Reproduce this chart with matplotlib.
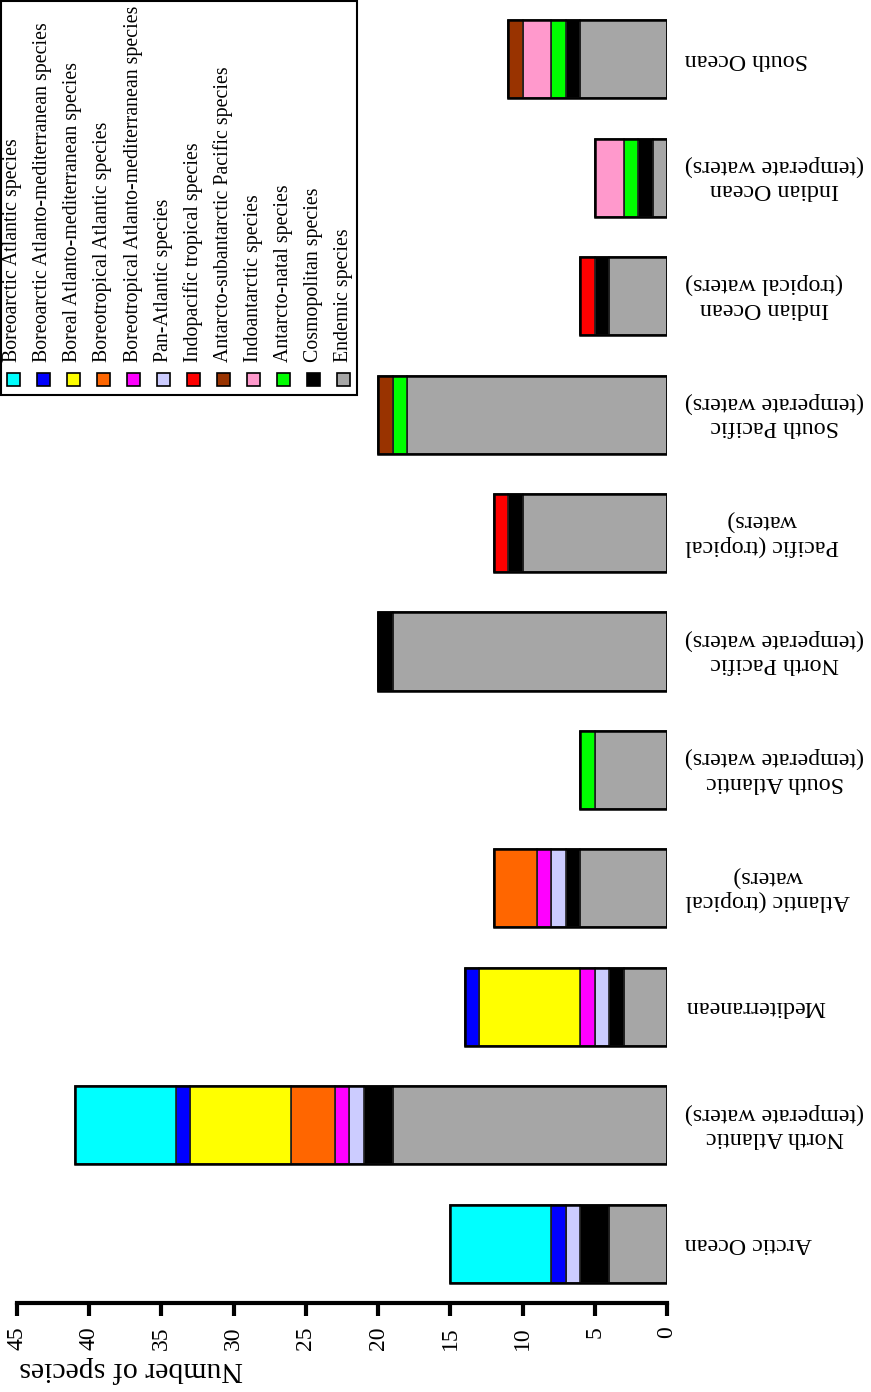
import matplotlib
matplotlib.use('Agg')
import matplotlib.pyplot as plt
from matplotlib.patches import Rectangle

plt.rcParams['font.family'] = ['Liberation Serif', 'DejaVu Serif']

# regions (bottom to top in the picture)
regions = ['Arctic Ocean', 'North Atlantic\n(temperate waters)', 'Mediterranean',
           'Atlantic (tropical\nwaters)', 'South Atlantic\n(temperate waters)',
           'North Pacific\n(temperate waters)', 'Pacific (tropical\nwaters)',
           'South Pacific\n(temperate waters)', 'Indian Ocean\n(tropical waters)',
           'Indian Ocean\n(temperate waters)', 'South Ocean']

# species counts per group, same order as regions
boreoarctic_atl = [7, 7, 0, 0, 0, 0, 0, 0, 0, 0, 0]
boreoarctic_am = [1, 1, 1, 0, 0, 0, 0, 0, 0, 0, 0]
boreal_am = [0, 7, 7, 0, 0, 0, 0, 0, 0, 0, 0]
boreotrop_atl = [0, 3, 0, 3, 0, 0, 0, 0, 0, 0, 0]
boreotrop_am = [0, 1, 1, 1, 0, 0, 0, 0, 0, 0, 0]
pan_atl = [1, 1, 1, 1, 0, 0, 0, 0, 0, 0, 0]
indopacific = [0, 0, 0, 0, 0, 0, 1, 0, 1, 0, 0]
antarcto_subant_pac = [0, 0, 0, 0, 0, 0, 0, 1, 0, 0, 1]
indoantarctic = [0, 0, 0, 0, 0, 0, 0, 0, 0, 2, 2]
antarcto_natal = [0, 0, 0, 0, 1, 0, 0, 1, 0, 1, 1]
cosmopolitan = [2, 2, 1, 1, 0, 1, 1, 0, 1, 1, 1]
endemic = [4, 19, 3, 6, 5, 19, 10, 18, 4, 1, 6]

groups = ['Boreoarctic Atlantic species', 'Boreoarctic Atlanto-mediterranean species',
          'Boreal Atlanto-mediterranean species', 'Boreotropical Atlantic species',
          'Boreotropical Atlanto-mediterranean species', 'Pan-Atlantic species',
          'Indopacific tropical species', 'Antarcto-subantarctic Pacific species',
          'Indoantarctic species', 'Antarcto-natal species', 'Cosmopolitan species',
          'Endemic species']
series = [boreoarctic_atl, boreoarctic_am, boreal_am, boreotrop_atl, boreotrop_am, pan_atl,
          indopacific, antarcto_subant_pac, indoantarctic, antarcto_natal, cosmopolitan, endemic]
colors = ['#00FFFF', '#0000FF', '#FFFF00', '#FF6600', '#FF00FF', '#CCCCFF',
          '#FF0000', '#993300', '#FF99CC', '#00FF00', '#000000', '#A6A6A6']

fig = plt.figure(figsize=(8.71, 13.92), dpi=100)
W, H = 871, 1392
ax = fig.add_axes([17 / W, (H - 1303) / H, (667 - 17) / W, 1303 / H])

# stack from endemic outwards
ypos = list(range(len(regions)))
left = [0] * len(regions)
for vals, col in zip(series[::-1], colors[::-1]):
    ax.barh(ypos, vals, left=left, height=0.66, color=col, edgecolor='#202020', linewidth=1.2)
    left = [l + v for l, v in zip(left, vals)]
# outline around each whole bar
ax.barh(ypos, left, height=0.66, color='none', edgecolor='black', linewidth=1.8)

ax.set_xlim(45, 0)
ax.set_ylim(-0.5, 10.5)
ax.set_xticks(range(0, 46, 5))
ax.set_xticklabels([str(v) for v in range(0, 46, 5)], rotation=90, fontsize=17)
ax.tick_params(axis='x', length=9, width=3, pad=8)
ax.set_xlabel('Number of species', fontsize=21.5, rotation=180, va='center', ha='center')
ax.xaxis.set_label_coords((131 - 17) / 650, -(1369 - 1303) / 1303)

ax.yaxis.tick_right()
ax.set_yticks(ypos)
ax.set_yticklabels(regions, rotation=180, fontsize=17.3, multialignment='center', va='center')
ax.tick_params(axis='y', length=0, pad=13)

for s in ['top', 'left', 'right']:
    ax.spines[s].set_visible(False)
ax.spines['bottom'].set_linewidth(3)

# legend drawn by hand (rotated text)
fig.patches.append(Rectangle((1 / W, 1 - 395 / H), 356 / W, 394 / H, transform=fig.transFigure,
                             facecolor='white', edgecolor='black', linewidth=1.5, zorder=5))
for i, (name, col) in enumerate(zip(groups, colors)):
    xc = 13 + i * 30
    fig.patches.append(Rectangle(((xc - 6.5) / W, 1 - 386 / H), 13 / W, 13 / H,
                                 transform=fig.transFigure, facecolor=col,
                                 edgecolor='black', linewidth=1.2, zorder=6))
    fig.text(xc / W, 1 - 362 / H, name, rotation=90, ha='center', va='bottom',
             fontsize=14.3, zorder=7)

fig.savefig('out.png', dpi=100)
